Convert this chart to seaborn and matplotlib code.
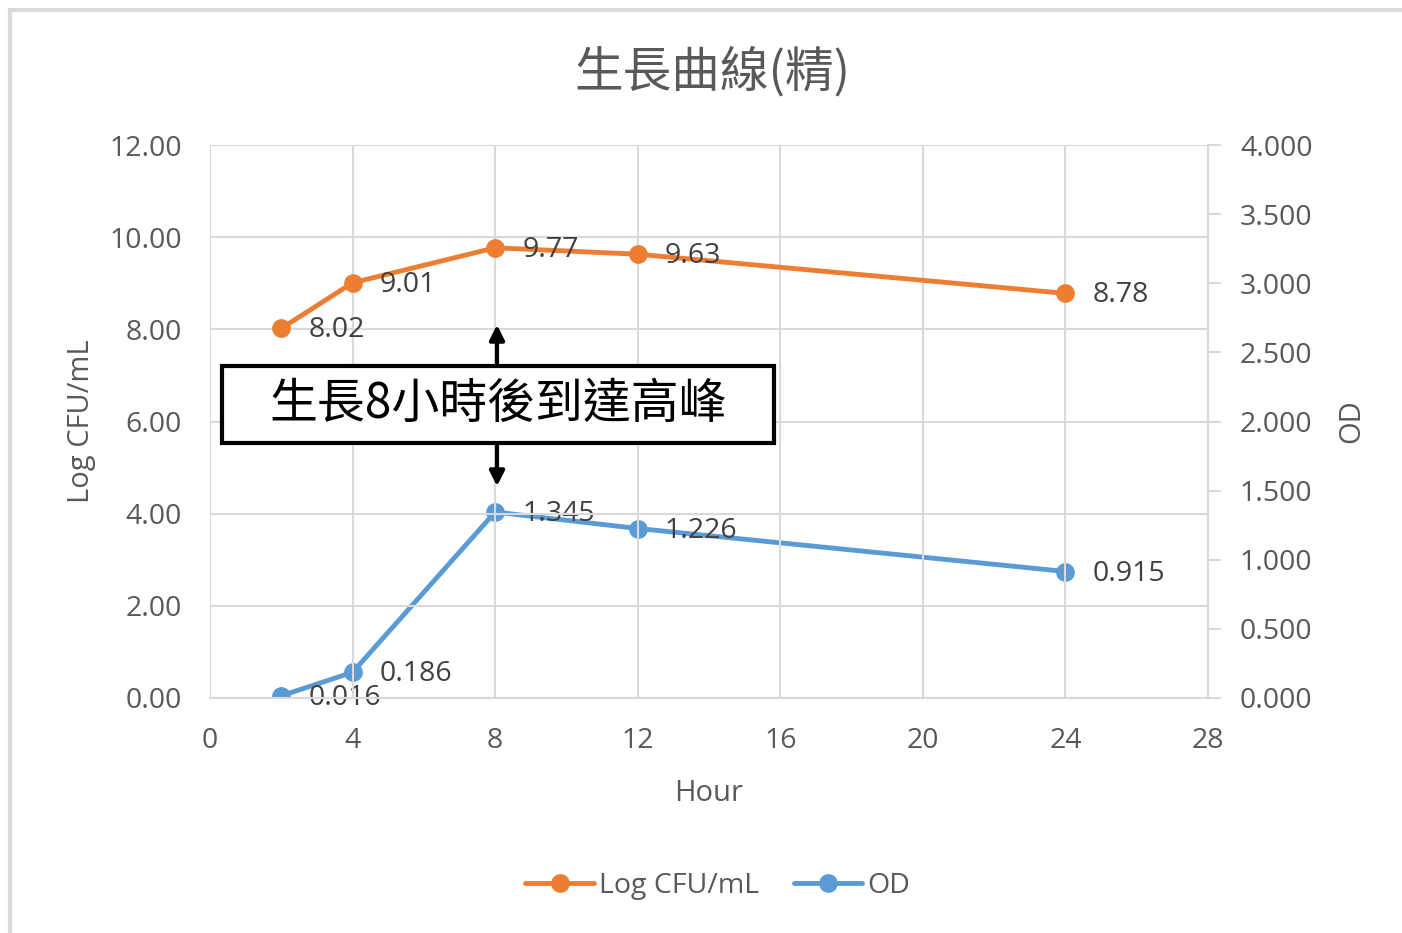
import matplotlib
matplotlib.use("Agg")
import matplotlib.pyplot as plt
import matplotlib.patches as patches
import seaborn as sns
import pandas as pd

hours = [2, 4, 8, 12, 24]
log_cfu = [8.02, 9.01, 9.77, 9.63, 8.78]
od = [0.016, 0.186, 1.345, 1.226, 0.915]
log_labels = ["8.02", "9.01", "9.77", "9.63", "8.78"]
od_labels = ["0.016", "0.186", "1.345", "1.226", "0.915"]
x_ticks = [0, 4, 8, 12, 16, 20, 24, 28]
left_ticks = [0, 2, 4, 6, 8, 10, 12]
right_ticks = [0, 0.5, 1.0, 1.5, 2.0, 2.5, 3.0, 3.5, 4.0]

sns.set_theme(style="white")
plt.rcParams['font.family'] = ['Open Sans', 'Noto Sans CJK TC', 'DejaVu Sans']
CJK = ['Noto Sans CJK TC', 'DejaVu Sans']

ORANGE = "#ED7D31"
BLUE = "#5B9BD5"
GRAY_TXT = "#595959"
LBL_TXT = "#404040"
GRID = "#D9D9D9"
FS = 20.5

fig = plt.figure(figsize=(14.02, 9.33), dpi=100)
W, H = 1402, 933
ax = fig.add_axes([210 / W, 1 - 698 / H, (1208 - 210) / W, (698 - 145) / H])
ax2 = ax.twinx()

df = pd.DataFrame({"Hour": hours, "Log": log_cfu, "OD": od})

sns.lineplot(data=df, x="Hour", y="Log", ax=ax, color=ORANGE, marker="o",
             markersize=13.5, linewidth=3.5, markeredgewidth=0, label="Log CFU/mL", legend=False)
sns.lineplot(data=df, x="Hour", y="OD", ax=ax2, color=BLUE, marker="o",
             markersize=13.5, linewidth=3.5, markeredgewidth=0, label="OD", legend=False)

ax.set_xlim(0, 28)
ax.set_ylim(0, 12)
ax2.set_ylim(0, 4)
ax.set_xticks(x_ticks)
ax.set_yticks(left_ticks)
ax.set_yticklabels([f"{v:.2f}" for v in left_ticks])
ax2.set_yticks(right_ticks)
ax2.set_yticklabels([f"{v:.3f}" for v in right_ticks])

ax.grid(True, color=GRID, linewidth=1.5)
ax.set_axisbelow(True)
for s in ["top", "right", "left"]:
    ax.spines[s].set_visible(False)
ax.spines["bottom"].set_color(GRID)
ax.spines["bottom"].set_linewidth(1.5)
for s in ["top", "left", "bottom"]:
    ax2.spines[s].set_visible(False)
ax2.spines["right"].set_color(GRID)
ax2.spines["right"].set_linewidth(1.5)

ax.tick_params(axis="x", length=0, labelsize=FS, labelcolor=GRAY_TXT, pad=21)
ax.tick_params(axis="y", length=0, labelsize=FS, labelcolor=GRAY_TXT, pad=20)
ax2.tick_params(axis="y", length=9, width=1.5, color=GRID, labelsize=FS,
                labelcolor=GRAY_TXT, direction="out", pad=14)

ax.set_xlabel("Hour", fontsize=21, color=GRAY_TXT, labelpad=17)
ax.set_ylabel("Log CFU/mL", fontsize=21, color=GRAY_TXT, labelpad=10)
ax2.set_ylabel("OD", fontsize=21, color=GRAY_TXT, labelpad=18)

for x, y, t in zip(hours, log_cfu, log_labels):
    ax.annotate(t, (x, y), xytext=(27, -2), textcoords="offset pixels",
                ha="left", va="center", fontsize=FS, color=LBL_TXT)
for x, y, t in zip(hours, od, od_labels):
    ax2.annotate(t, (x, y), xytext=(27, -2), textcoords="offset pixels",
                 ha="left", va="center", fontsize=FS, color=LBL_TXT)

ax.set_zorder(ax2.get_zorder() + 1)
ax.patch.set_visible(False)

fig.suptitle("生長曲線(精)", x=712 / W, y=1 - 72 / H, va="center",
             fontsize=35, color=GRAY_TXT, family=CJK)

# Annotation box and arrows
fig.text(498 / W, 1 - 404 / H, "生長8小時後到達高峰", ha="center", va="center",
         fontsize=34.5, color="black", family=CJK, zorder=6)
fig.patches.append(patches.Rectangle((222 / W, 1 - 443 / H), (774 - 222) / W, (443 - 366) / H,
                                     transform=fig.transFigure, fill=True, facecolor="white",
                                     edgecolor="black", linewidth=3, zorder=5))
fig.patches.append(patches.FancyArrowPatch((497 / W, 1 - 366 / H), (497 / W, 1 - 322 / H),
                                           transform=fig.transFigure, arrowstyle="-|>",
                                           mutation_scale=22, color="black", linewidth=3, zorder=6))
fig.patches.append(patches.FancyArrowPatch((497 / W, 1 - 443 / H), (497 / W, 1 - 489 / H),
                                           transform=fig.transFigure, arrowstyle="-|>",
                                           mutation_scale=22, color="black", linewidth=3, zorder=6))

# Outer chart border
fig.patches.append(patches.Rectangle((10 / W, -0.2), 1.2, 1.2 - 10 / H,
                                     transform=fig.transFigure, fill=False,
                                     edgecolor="#D9D9D9", linewidth=3, zorder=0))

# Legend
h1, l1 = ax.get_legend_handles_labels()
h2, l2 = ax2.get_legend_handles_labels()
fig.legend(h1 + h2, l1 + l2, loc="center", bbox_to_anchor=(718 / W, 1 - 886 / H),
           ncol=2, frameon=False, fontsize=FS, labelcolor=GRAY_TXT,
           handlelength=2.4, handletextpad=0.2, columnspacing=1.2)

fig.savefig("out.png", dpi=100)
